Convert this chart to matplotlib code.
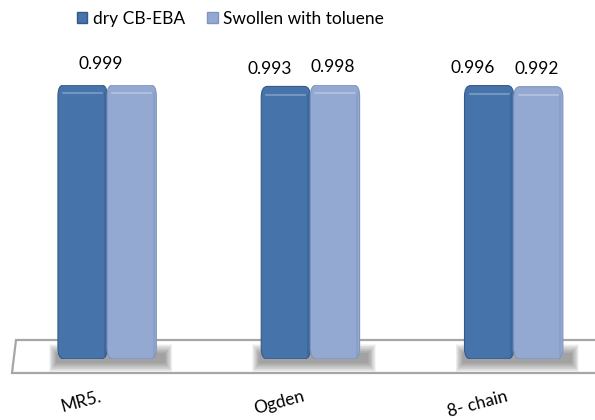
import numpy as np
import matplotlib
matplotlib.use("Agg")
import matplotlib.pyplot as plt
from matplotlib.patches import Polygon, FancyBboxPatch, Rectangle
from matplotlib.transforms import ScaledTranslation

categories = ["MR5.", "Ogden", "8- chain"]
dry_values = [0.999, 0.993, 0.996]
swollen_values = [0.999, 0.998, 0.992]
series_names = ["dry CB-EBA", "Swollen with toluene"]
dry_labels = ["", "0.993", "0.996"]
swollen_labels = ["", "0.998", "0.992"]
group_labels = ["0.999", "", ""]

dry_color = "#4573AA"
dry_edge = "#36598A"
swollen_color = "#93A9D2"
swollen_edge = "#7F95BE"

plt.rcParams["font.family"] = ["Lato", "DejaVu Sans"]

W, H = 595, 420
fig = plt.figure(figsize=(W / 100, H / 100), dpi=100)

# floor of the plot area
floor = Polygon([(16 / W, 1 - 340 / H), (1.02, 1 - 340 / H),
                 (1.02, 1 - 373 / H), (12 / W, 1 - 373 / H)],
                closed=True, transform=fig.transFigure, facecolor="white",
                edgecolor="#A6A6A6", linewidth=1.6, zorder=-1)
fig.patches.append(floor)

ax = fig.add_axes([0, 61 / H, 1, 274.5 / H])
ax.set_zorder(1)
ax.set_xlim(-0.527, 2.40)
ax.set_ylim(0, 1)
ax.axis("off")
ax.patch.set_alpha(0)

x = np.arange(len(categories))
width = 0.242

def shadow(ax, left, right, layers=14):
    # soft drop shadow under each pair of bars, built from stacked translucent boxes
    for k in range(layers):
        pad = 0.0028 * (layers - k)
        ax.add_patch(Rectangle((left - 0.005 - pad, -0.012 - 0.0028 * (layers - k) * 0.9),
                               right - left + 0.045 + 2 * pad,
                               0.030 + 2 * 0.0028 * (layers - k) * 0.9,
                               facecolor="#5E5E5E", edgecolor="none",
                               alpha=0.055, zorder=1, clip_on=False))

for xi in x:
    shadow(ax, xi - width, xi + width)

dry_bars = ax.bar(x - width / 2, dry_values, width, color=dry_color,
                  edgecolor="none", zorder=2, label=series_names[0])
sw_bars = ax.bar(x + width / 2, swollen_values, width, color=swollen_color,
                 edgecolor="none", zorder=2, label=series_names[1])

# rounded, bevelled look on top of every bar
asp = (274.5 / 1.0) / (W / 2.927)
for bars, col, edge in [(dry_bars, dry_color, dry_edge),
                        (sw_bars, swollen_color, swollen_edge)]:
    for b in bars:
        b.set_visible(False)
        x0, w, h = b.get_x(), b.get_width(), b.get_height()
        r = 0.03
        ax.add_patch(FancyBboxPatch((x0 + r, r * asp), w - 2 * r, h - 2 * r * asp,
                                    boxstyle=f"round,pad={r}",
                                    mutation_aspect=asp,
                                    facecolor=col, edgecolor=edge,
                                    linewidth=0.8, zorder=3))
        ax.plot([x0 + 0.025, x0 + w - 0.025], [h - 0.03, h - 0.03],
                color="white", alpha=0.25, linewidth=1.5, zorder=4,
                solid_capstyle="round")
        ax.plot([x0 + w - 0.012, x0 + w - 0.012], [0.01, h - 0.03],
                color=edge, alpha=0.5, linewidth=1.2, zorder=4)

text_kw = dict(ha="center", va="bottom", fontsize=12.5, color="black", zorder=5)
for xi, v, lab in zip(x, dry_values, dry_labels):
    if lab:
        ax.text(xi - width / 2 - 0.08, v + 0.035, lab, **text_kw)
for xi, v, lab in zip(x, swollen_values, swollen_labels):
    if lab:
        ax.text(xi + width / 2 - 0.01, v + 0.035, lab, **text_kw)
for xi, v, lab in zip(x, dry_values, group_labels):
    if lab:
        ax.text(xi - 0.03, v + 0.045, lab, **text_kw)

# rotated category labels under the floor, anchored at their right end
for xi, cat in zip(x, categories):
    ax.text(xi, 0, cat, ha="right", va="center", rotation=15,
            rotation_mode="anchor", fontsize=12.5, color="black", zorder=5,
            transform=ax.transData + ScaledTranslation(-6 / 100, -37 / 100,
                                                       fig.dpi_scale_trans))

handles = [Rectangle((0, 0), 1, 1, facecolor=dry_color, edgecolor=dry_edge),
           Rectangle((0, 0), 1, 1, facecolor=swollen_color, edgecolor=swollen_edge)]
fig.legend(handles, series_names, loc="center left",
           bbox_to_anchor=(70 / W, 1 - 19 / H), ncol=2, frameon=False,
           fontsize=12.5, handlelength=0.6, handleheight=0.6,
           handletextpad=0.3, columnspacing=1.3, borderaxespad=0)

fig.savefig("out.png", dpi=100)
